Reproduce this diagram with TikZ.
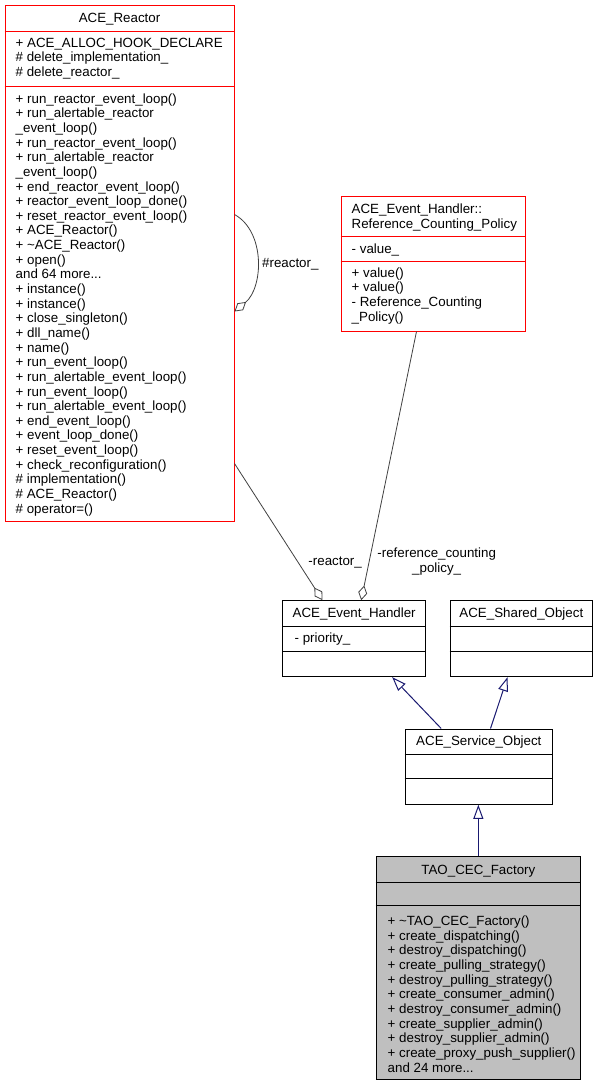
\documentclass[tikz,border=0pt]{standalone}
\usepackage{fontspec}
\setmainfont{Liberation Sans}
\definecolor{ClassRed}{HTML}{FF0000}
\definecolor{EdgeGray}{HTML}{404040}
\definecolor{InheritBlue}{HTML}{191970}
\definecolor{FocusGray}{HTML}{BFBFBF}
\usetikzlibrary{
  arrows.meta,
  calc
}
\newcommand{\umlfont}{\fontsize{13.33}{14.64}\selectfont}

\begin{document}
\begin{tikzpicture}[
  x=1pt, y=-1pt,
  cls/.style={
    rectangle, draw=black, fill=white,
    line width=1pt, inner sep=0pt
  },
  clsred/.style={cls, draw=ClassRed},
  sep/.style={line width=1pt},
  heading/.style={
    anchor=base, inner sep=0pt,
    font=\umlfont
  },
  members/.style={
    anchor=north west, inner sep=0pt,
    font=\umlfont, align=left
  },
  edgelabel/.style={inner sep=0pt, font=\umlfont},
  aggr/.style={
    EdgeGray, line width=0.8pt,
    -{Diamond[open, length=15pt, width=9pt]}
  },
  inherit/.style={
    InheritBlue, line width=1pt,
    -{Triangle[open, length=14pt, width=10pt]}
  }
]
  \useasboundingbox (0,0) rectangle (597,1085);

  % ACE_Reactor
  \node[clsred, minimum width=229pt,
    minimum height=516pt] (reactor)
    at (119.5,263) {};
  \draw[sep, ClassRed] (reactor.west |- 0,31) -- (reactor.east |- 0,31);
  \draw[sep, ClassRed] (reactor.west |- 0,86) -- (reactor.east |- 0,86);
  \node[heading] (reactor-t) at (119.5,22) {ACE\_Reactor};
  \node[members] (reactor-a) at (15.5,36.75)
    {\strut+ ACE\_ALLOC\_HOOK\_DECLARE\\
     \# delete\_implementation\_\\
     \# delete\_reactor\_};
  \node[members] (reactor-m) at (15.5,92.75)
    {\strut+ run\_reactor\_event\_loop()\\
     + run\_alertable\_reactor\\
     \_event\_loop()\\
     + run\_reactor\_event\_loop()\\
     + run\_alertable\_reactor\\
     \_event\_loop()\\
     + end\_reactor\_event\_loop()\\
     + reactor\_event\_loop\_done()\\
     + reset\_reactor\_event\_loop()\\
     + ACE\_Reactor()\\
     + \textasciitilde ACE\_Reactor()\\
     + open()\\
     and 64 more...\\
     + instance()\\
     + instance()\\
     + close\_singleton()\\
     + dll\_name()\\
     + name()\\
     + run\_event\_loop()\\
     + run\_alertable\_event\_loop()\\
     + run\_event\_loop()\\
     + run\_alertable\_event\_loop()\\
     + end\_event\_loop()\\
     + event\_loop\_done()\\
     + reset\_event\_loop()\\
     + check\_reconfiguration()\\
     \# implementation()\\
     \# ACE\_Reactor()\\
     \# operator=()};

  % ACE_Event_Handler::Reference_Counting_Policy
  \node[clsred, minimum width=184pt,
    minimum height=135pt] (refpol)
    at (433,263.5) {};
  \draw[sep, ClassRed] (refpol.west |- 0,236.7) -- (refpol.east |- 0,236.7);
  \draw[sep, ClassRed] (refpol.west |- 0,261) -- (refpol.east |- 0,261);
  \node[members] (refpol-t) at (351.5,203.25)
    {\strut ACE\_Event\_Handler::\\
     Reference\_Counting\_Policy};
  \node[members] (refpol-a) at (351.5,243.25)
    {\strut- value\_};
  \node[members] (refpol-m) at (351.5,266.75)
    {\strut+ value()\\
     + value()\\
     - Reference\_Counting\\
     \_Policy()};

  % ACE_Event_Handler
  \node[cls, minimum width=143pt,
    minimum height=76pt] (handler)
    at (354.2,638.7) {};
  \draw[sep] (handler.west |- 0,626) -- (handler.east |- 0,626);
  \draw[sep] (handler.west |- 0,651.7) -- (handler.east |- 0,651.7);
  \node[heading] (handler-t) at (354.2,617) {ACE\_Event\_Handler};
  \node[members] (handler-a) at (294.5,631.75)
    {\strut- priority\_};

  % ACE_Shared_Object
  \node[cls, minimum width=142.7pt,
    minimum height=76pt] (shared)
    at (521.35,638.7) {};
  \draw[sep] (shared.west |- 0,626) -- (shared.east |- 0,626);
  \draw[sep] (shared.west |- 0,651.7) -- (shared.east |- 0,651.7);
  \node[heading] (shared-t) at (521.35,617) {ACE\_Shared\_Object};

  % ACE_Service_Object
  \node[cls, minimum width=147.7pt,
    minimum height=75.3pt] (service)
    at (478.85,766.65) {};
  \draw[sep] (service.west |- 0,754) -- (service.east |- 0,754);
  \draw[sep] (service.west |- 0,778.7) -- (service.east |- 0,778.7);
  \node[heading] (service-t) at (478.85,745) {ACE\_Service\_Object};

  % TAO_CEC_Factory
  \node[cls, fill=FocusGray, minimum width=204.7pt,
    minimum height=222.6pt] (factory)
    at (478.35,968) {};
  \draw[sep] (factory.west |- 0,882.3) -- (factory.east |- 0,882.3);
  \draw[sep] (factory.west |- 0,905.7) -- (factory.east |- 0,905.7);
  \node[heading] (factory-t) at (478.35,874) {TAO\_CEC\_Factory};
  \node[members] (factory-m) at (387.5,915.25)
    {\strut+ \textasciitilde TAO\_CEC\_Factory()\\
     + create\_dispatching()\\
     + destroy\_dispatching()\\
     + create\_pulling\_strategy()\\
     + destroy\_pulling\_strategy()\\
     + create\_consumer\_admin()\\
     + destroy\_consumer\_admin()\\
     + create\_supplier\_admin()\\
     + destroy\_supplier\_admin()\\
     + create\_proxy\_push\_supplier()\\
     and 24 more...};

  % Aggregations
  \draw[aggr] ($(reactor.north east)+(0,210)$)
    .. controls ($(reactor.north east)+(31,227)$)
    and ($(reactor.north east)+(29,283)$)
    .. ($(reactor.north east)+(0,307)$);
  \node[edgelabel, anchor=base west] (lbl-self)
    at (262,267.5) {\#reactor\_};
  \draw[aggr] ($(reactor.north east)+(0,459)$)
    -- ($(handler.north west)+(40.3,0)$);
  \node[edgelabel, anchor=base east] (lbl-reactor)
    at (362,565.5) {-reactor\_};
  \draw[aggr] ($(refpol.south west)+(76,0)$)
    -- ($(handler.north west)+(79,0)$);
  \node[edgelabel, anchor=north, align=center] (lbl-refpol)
    at (436.7,547.25) {\strut-reference\_counting\\\_policy\_};

  % Inheritance
  \draw[inherit] ($(service.north west)+(36.7,0)$)
    -- ($(handler.south west)+(110,0)$);
  \draw[inherit] ($(service.north west)+(86,0)$)
    -- ($(shared.south west)+(58,0)$);
  \draw[inherit] (factory.north)
    -- (factory.north |- service.south);
\end{tikzpicture}
\end{document}
